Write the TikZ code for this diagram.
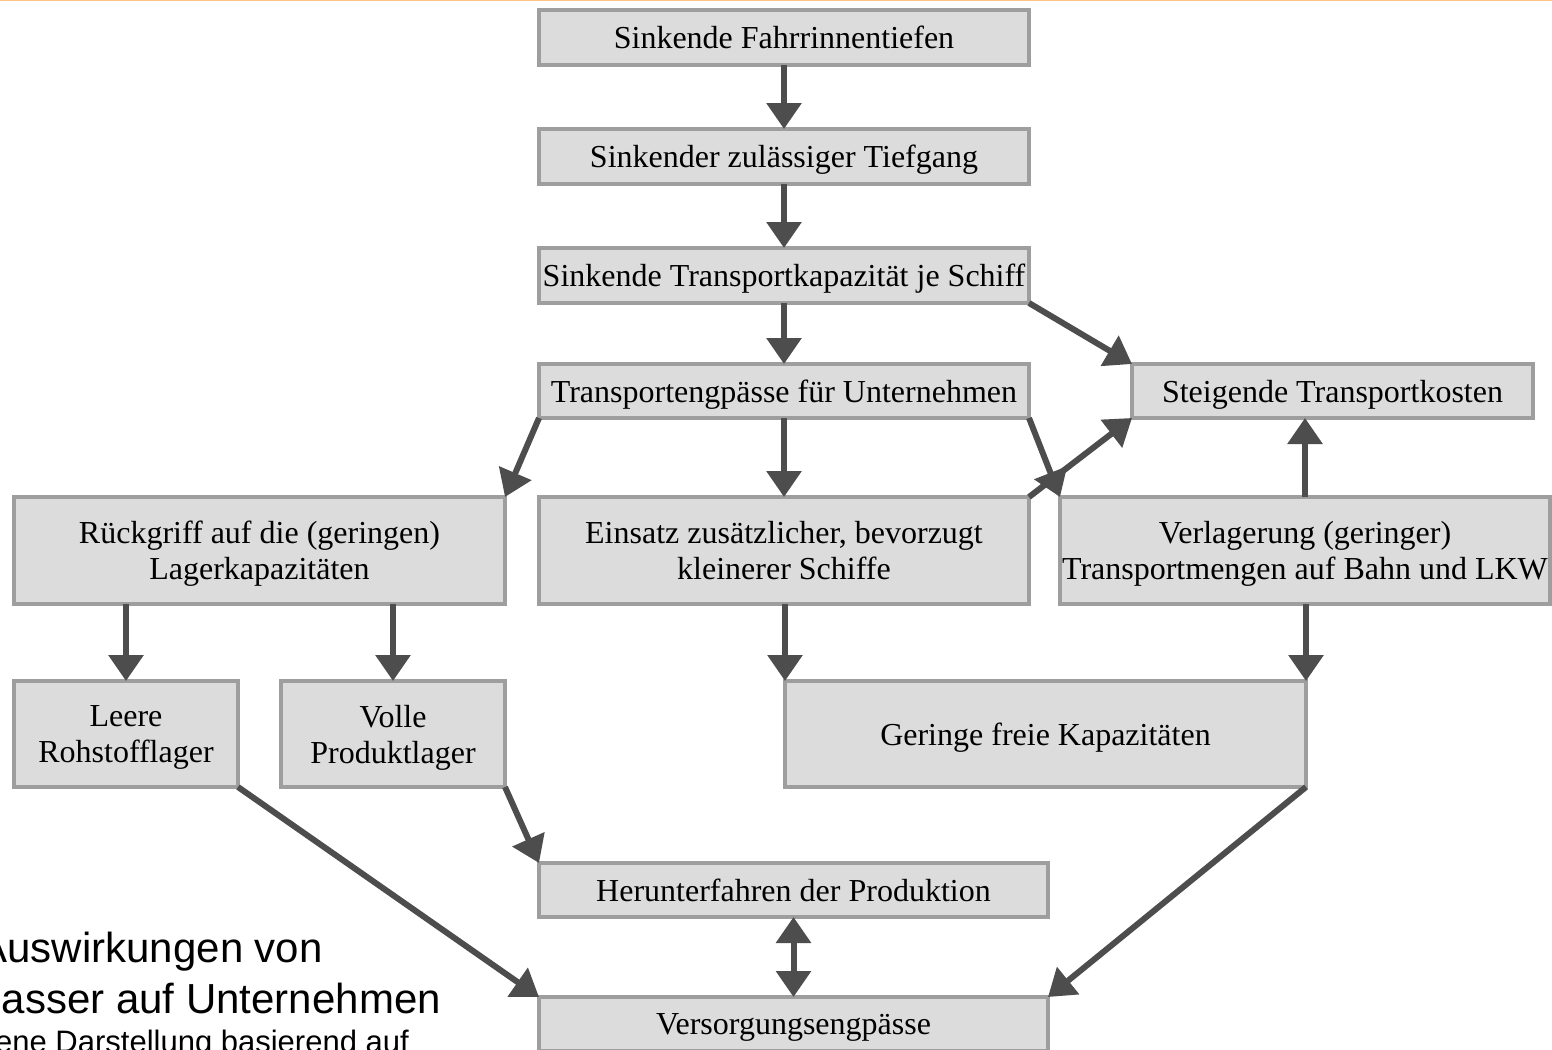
\documentclass[tikz,border=0pt]{standalone}
\usepackage{fontspec}
\setmainfont{Liberation Serif}
\newfontfamily\capfont{Liberation Sans}
\usetikzlibrary{arrows.meta}
\definecolor{boxfill}{HTML}{DCDCDC}
\definecolor{boxline}{HTML}{9E9E9E}
\definecolor{arrowc}{HTML}{4D4D4D}
\definecolor{topline}{HTML}{FFC47F}
\tikzset{
  fbox/.style={draw=boxline, fill=boxfill, line width=4pt, inner sep=0pt, outer sep=0pt,
    align=center, text depth=0pt, font=\fontsize{32}{36}\selectfont},
  arr/.style={draw=arrowc, line width=6pt, -{Triangle[length=26pt,width=34pt]}},
  darr/.style={draw=arrowc, line width=6pt, {Triangle[length=26pt,width=34pt]}-{Triangle[length=26pt,width=34pt]}},
  captxt/.style={inner sep=0pt, anchor=base east, text=black}
}
\begin{document}
\begin{tikzpicture}[x=1pt,y=-1pt]
\useasboundingbox (0,0) rectangle (1552,1049);
\clip (0,0) rectangle (1552,1049);
\fill[white] (0,0) rectangle (1552,1049);
\draw[topline, line width=3pt] (0,0) -- (1552,0);

\node[fbox, minimum width=490pt, minimum height=55pt] (n1) at (784,37.5) {Sinkende Fahrrinnentiefen};
\node[fbox, minimum width=490pt, minimum height=55pt] (n2) at (784,156.5) {Sinkender zulässiger Tiefgang};
\node[fbox, minimum width=490pt, minimum height=55pt] (n3) at (784,275.5) {Sinkende Transportkapazität je Schiff};
\node[fbox, minimum width=490pt, minimum height=54pt] (n4) at (784,391) {Transportengpässe für Unternehmen};
\node[fbox, minimum width=401pt, minimum height=54pt] (n5) at (1332.5,391) {Steigende Transportkosten};
\node[fbox, minimum width=491pt, minimum height=107pt] (n6) at (259.5,550.5) {Rückgriff auf die (geringen)\\Lagerkapazitäten};
\node[fbox, minimum width=490pt, minimum height=107pt] (n7) at (784,550.5) {Einsatz zusätzlicher, bevorzugt\\kleinerer Schiffe};
\node[fbox, minimum width=490pt, minimum height=107pt] (n8) at (1305,550.5) {Verlagerung (geringer)\\Transportmengen auf Bahn und LKW};
\node[fbox, minimum width=224pt, minimum height=106pt] (n9) at (126,734) {Leere\\Rohstofflager};
\node[fbox, minimum width=224pt, minimum height=106pt] (n10) at (393,734) {Volle\\Produktlager};
\node[fbox, minimum width=521pt, minimum height=106pt] (n11) at (1045.5,734) {Geringe freie Kapazitäten};
\node[fbox, minimum width=509pt, minimum height=54pt] (n12) at (793.5,890) {Herunterfahren der Produktion};
\node[fbox, minimum width=509pt, minimum height=54pt] (n13) at (793.5,1024) {Versorgungsengpässe};

\draw[arr] (n1.south) -- (n2.north);
\draw[arr] (n2.south) -- (n3.north);
\draw[arr] (n3.south) -- (n4.north);
\draw[arr] (n3.south east) -- (n5.north west);
\draw[arr] (n4.south west) -- (n6.north east);
\draw[arr] (n4.south) -- (n7.north);
\draw[arr] (n4.south east) -- (n8.north west);
\draw[arr] (n7.north east) -- (n5.south west);
\draw[arr] (n8.north) -- (n8.north |- n5.south);
\draw[arr] (n9.north |- n6.south) -- (n9.north);
\draw[arr] (n10.north |- n6.south) -- (n10.north);
\draw[arr] (n11.north west |- n7.south) -- (n11.north west);
\draw[arr] (n11.north east |- n8.south) -- (n11.north east);
\draw[arr] (n10.south east) -- (n12.north west);
\draw[arr] (n9.south east) -- (n13.north west);
\draw[arr] (n11.south east) -- (n13.north east);
\draw[darr] (n12.south) -- (n13.north);

\node[captxt, font=\capfont\fontsize{42}{50}\selectfont] (c1) at (323,962) {Auswirkungen von};
\node[captxt, font=\capfont\fontsize{42}{50}\selectfont] (c2) at (441,1013) {asser auf Unternehmen};
\node[captxt, font=\capfont\fontsize{31}{36}\selectfont] (c3) at (409,1052) {ene Darstellung basierend auf};
\end{tikzpicture}
\end{document}
